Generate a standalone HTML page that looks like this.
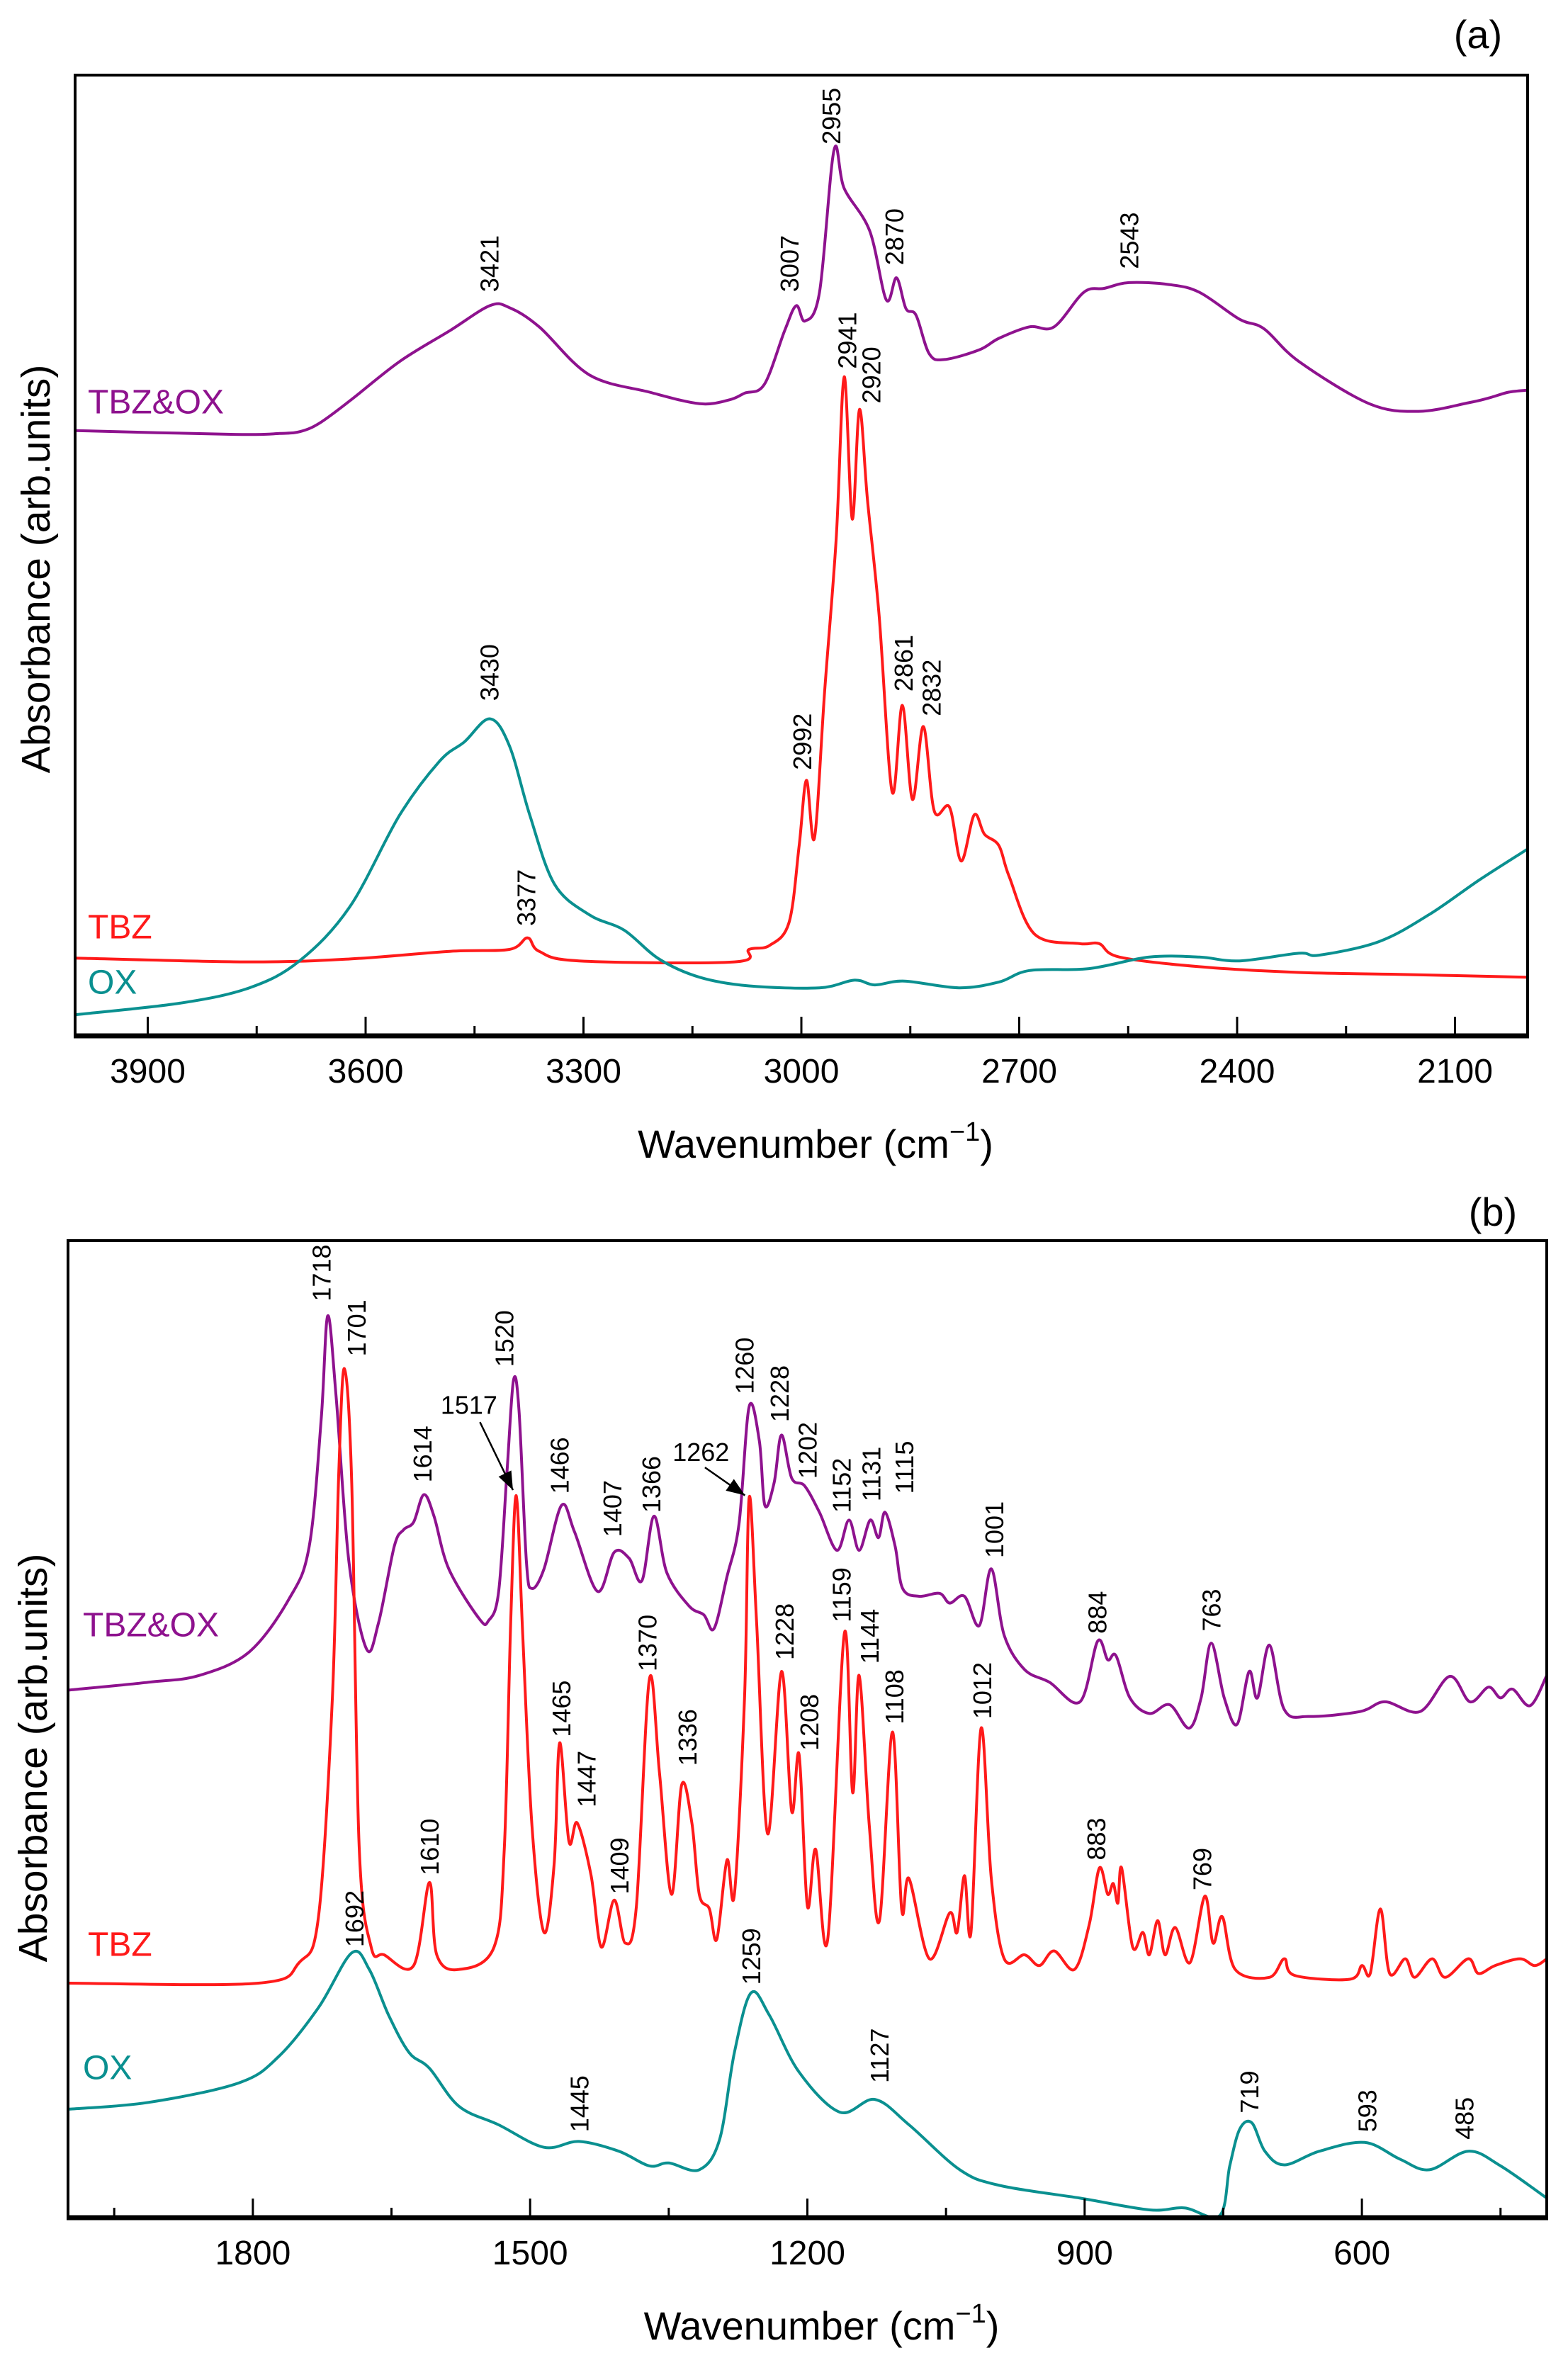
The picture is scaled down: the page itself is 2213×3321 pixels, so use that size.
<!DOCTYPE html>
<html><head><meta charset="utf-8">
<style>
html,body{margin:0;padding:0;background:#fff;}
svg{display:block;font-family:"Liberation Sans",Arial,sans-serif;}
</style></head>
<body>
<svg id="fig" width="2213" height="3321" viewBox="0 0 2213 3321" xmlns="http://www.w3.org/2000/svg">
<rect width="2213" height="3321" fill="#fff"/>
</svg>
<script>
// ---------- Panel (a) data ----------
const aMixWn  = [4000,3780,3718,3690,3663,3620,3553,3484,3429,3402,3361,3292,3209,3140,3099,3078,3051,3023,3007,2995,2975,2955,2941,2906,2883,2869,2856,2842,2824,2803,2755,2728,2686,2652,2611,2583,2549,2494,2452,2397,2363,2315,2218,2150,2081,2053,2026,2001];
const aMixVal = [63.0,62.6,62.7,62.9,63.8,66.2,70.2,73.4,76,75.8,73.8,68.8,67,65.8,66.2,66.9,67.8,73.4,76,74.4,77.4,92.2,88.2,83.8,76.6,78.9,75.7,75,71,70.4,71.4,72.6,73.8,73.8,77.4,77.8,78.4,78.2,77.4,74.6,73.6,70.2,65.8,65,65.9,66.4,67,67.2];
const aTbzWn  = [4000,3760,3622,3484,3402,3377,3361,3306,3092,3072,3044,3017,3003,2993,2982,2968,2952,2941,2930,2920,2909,2893,2875,2861,2847,2832,2817,2796,2780,2762,2748,2728,2714,2679,2617,2590,2562,2452,2315,2177,2001];
const aTbzVal = [8.1,7.7,8.0,8.8,9,10.2,8.8,7.8,7.7,9,9.4,11.8,19.8,26.6,20.6,35.8,51.8,68.6,53.8,65.2,55.8,43.8,25.4,34.4,24.6,32.2,23.4,23.8,18.2,23,21,19.8,16.6,10.6,9.6,9.6,8.2,7.2,6.6,6.4,6.1];
const aOxWn   = [4000,3856,3760,3691,3622,3553,3498,3464,3429,3402,3374,3340,3292,3244,3196,3140,3072,2975,2927,2899,2858,2783,2728,2686,2604,2521,2452,2397,2315,2287,2205,2136,2067,2001];
const aOxVal  = [2.2,3.4,5,7.8,13.4,23,28.6,30.6,33,30.2,23,15.8,12.6,11,8,6.1,5.2,5,5.8,5.3,5.7,5,5.6,6.8,7,8.2,8.2,7.8,8.6,8.4,9.8,12.6,16.2,19.4];
const aTicks = [3900,3600,3300,3000,2700,2400,2100];
// ---------- Panel (b) data ----------
const bMixWn  = [1999,1913,1858,1804,1761,1739,1726,1719,1710,1696,1677,1664,1647,1637,1626,1615,1604,1588,1555,1545,1534,1525,1518,1512,1504,1498,1485,1466,1452,1427,1409,1393,1379,1366,1352,1328,1312,1301,1287,1274,1263,1252,1246,1236,1228,1217,1203,1187,1168,1155,1144,1132,1123,1116,1105,1097,1079,1057,1046,1030,1014,1001,987,965,938,905,886,875,866,851,830,808,787,774,763,749,735,722,713,700,684,657,602,575,537,505,483,463,450,437,418,400];
const bMixVal = [54,54.8,55.5,57.9,63.3,68.7,81.8,92.3,84.1,67.1,58.2,60.9,68.7,70.4,71.2,74,71.8,66.4,61.3,61.1,64.1,76.4,85.7,82.6,67.1,64.4,66.4,72.9,70.2,64.1,68.1,67.5,65.2,71.8,66,62.6,61.7,60.3,65.6,71,83,79.5,72.9,75.2,80.1,75.7,74.9,72.2,68.3,71.4,68.3,71.4,69.6,72.2,68.7,64.4,63.6,63.9,62.9,63.6,60.6,66.4,59.6,56.1,54.8,52.8,59,57.1,57.5,53.2,51.6,52.5,50.1,53.2,58.8,53.2,50.5,55.9,53.2,58.6,52,51.3,51.8,52.8,51.8,55.4,52.8,54.3,53.2,54.1,52.4,55.5];
const bTbzWn  = [1999,1794,1750,1729,1714,1707,1701,1693,1685,1672,1658,1626,1609,1601,1577,1539,1528,1521,1515,1508,1498,1485,1474,1468,1458,1449,1434,1423,1409,1397,1385,1371,1360,1347,1336,1325,1317,1306,1298,1287,1279,1268,1263,1255,1243,1228,1217,1209,1200,1191,1178,1160,1151,1144,1133,1122,1108,1098,1090,1068,1046,1038,1030,1023,1012,1001,987,965,949,933,911,895,884,875,869,864,860,848,837,830,821,813,802,786,770,761,751,737,700,684,673,613,600,591,580,570,553,543,524,510,485,474,456,429,413,400];
const bTbzVal = [24,24,26.1,30.8,53.2,76.4,86.9,75.2,38,27.7,26.9,25.8,34.3,26.9,25.4,27.7,37.7,61,73.9,59.6,40.1,29.2,36.2,48.6,38.5,40.4,35,27.7,32.5,28.1,31.9,55.1,45.5,33.1,44.3,40.4,33.1,31.6,28.5,36.6,33.1,53.2,73.7,61,39.3,55.9,41.6,47.4,31.9,37.7,28.5,59.8,43.5,55.5,40.1,30.4,49.7,31.6,34.7,26.5,31.2,29.2,35,29.2,50.1,34.7,26.5,26.9,25.8,27.3,25.4,30,35.8,33.1,34.2,32.2,35.8,27.7,29.2,26.9,30.4,26.9,29.7,26.1,32.9,28.1,30.8,25.4,24.6,26.5,24.8,24.4,25.8,25,31.6,25,26.5,24.6,26.5,24.6,26.5,25,25.8,26.5,25.8,26.5];
const bOxWn   = [1999,1913,1815,1772,1729,1693,1674,1653,1631,1609,1577,1534,1485,1447,1404,1371,1350,1317,1295,1279,1261,1241,1209,1165,1127,1090,1035,992,905,830,792,754,743,732,719,705,684,646,597,559,527,485,450,400];
const bOxVal  = [11.1,11.8,13.8,16.5,21.5,27.1,25.4,20.7,16.9,15.3,11.4,9.5,7.2,7.8,6.8,5.3,5.6,4.9,8,16.9,23,20.7,14.9,10.8,12.1,9.5,4.9,3.3,2,0.8,1,0.2,5.3,9.1,9.7,6.8,5.4,6.8,7.7,6,4.9,6.8,5.3,2];
const bTicks = [1800,1500,1200,900,600];

const NS="http://www.w3.org/2000/svg";
const svg=document.getElementById('fig');
function el(tag,attrs,parent){const e=document.createElementNS(NS,tag);for(const k in attrs)e.setAttribute(k,attrs[k]);(parent||svg).appendChild(e);return e;}

function makePanel(p){
  const g=el('g',{});
  
  
  const xs=w=>p.x0+(p.wmax-w)/(p.wmax-p.wmin)*(p.x1-p.x0);
  const ys=v=>p.y1-v/100*(p.y1-p.y0);
  p.series.forEach(s=>{
    const pts=s.wn.map((w,i)=>[xs(w),ys(s.val[i])]);
    let d='M'+pts[0][0].toFixed(1)+','+pts[0][1].toFixed(1);
    for(let i=0;i<pts.length-1;i++){
      const p0=pts[Math.max(0,i-1)],p1=pts[i],p2=pts[i+1],p3=pts[Math.min(pts.length-1,i+2)];
      const c1=[p1[0]+(p2[0]-p0[0])/6,p1[1]+(p2[1]-p0[1])/6];
      const c2=[p2[0]-(p3[0]-p1[0])/6,p2[1]-(p3[1]-p1[1])/6];
      d+='C'+c1[0].toFixed(1)+','+c1[1].toFixed(1)+' '+c2[0].toFixed(1)+','+c2[1].toFixed(1)+' '+p2[0].toFixed(1)+','+p2[1].toFixed(1);
    }
    const path=el('path',{d:d,fill:'none',stroke:s.color,'stroke-width':4,'stroke-linejoin':'round'},g);
    
    
    const lab=el('text',{x:s.lx,y:s.ly,fill:s.color,'font-size':48,'dominant-baseline':'middle'},g);
    
    
    lab.textContent=s.label;
  });
  const fr=el('rect',{x:p.x0,y:p.y0,width:p.x1-p.x0,height:p.y1-p.y0,fill:'none',stroke:'#000','stroke-width':4},g);
  
  
  el('line',{x1:p.x0-2,x2:p.x1+2,y1:p.y1,y2:p.y1,stroke:'#000','stroke-width':7},g);
  for(let w=p.minorStart;w>p.wmin;w-=150){
    const major=p.ticks.indexOf(w)>=0;
    const t=el('line',{x1:xs(w),x2:xs(w),y1:p.y1,y2:p.y1-(major?27:14),stroke:'#000','stroke-width':3},g);
    
    
  }
  p.ticks.forEach(w=>{
    const t=el('text',{x:xs(w),y:p.y1+66,'text-anchor':'middle','font-size':48,fill:'#000'},g);
    
    
    t.textContent=w;
  });
  const xt=el('text',{x:(p.x0+p.x1)/2+20,y:p.y1+172,'text-anchor':'middle','font-size':56,fill:'#000'},g);
  
  
  xt.innerHTML='Wavenumber (cm<tspan dy="-24" font-size="38">\u22121</tspan><tspan dy="24">)</tspan>';
  const yt=el('text',{x:0,y:0,'text-anchor':'middle','font-size':57,fill:'#000',transform:'translate('+(p.ytx)+','+(p.yty)+') rotate(-90)'},g);
  
  
  yt.textContent='Absorbance (arb.units)';
  const pl=el('text',{x:p.plx,y:p.ply,'text-anchor':'middle','font-size':56,fill:'#000'},g);
  
  
  pl.textContent=p.letter;
  p.peaks.forEach(k=>{
    const x=k[1]/0.7086, y=p.pyOff+k[2]/p.pyScale;
    const t=el('text',{x:0,y:0,'font-size':36,fill:'#000',transform:'translate('+(x+12).toFixed(1)+','+y.toFixed(1)+') rotate(-90)'},g);
    
    
    t.textContent=k[0];
  });
  return {xs,ys,g};
}

const A=makePanel({name:'panel-a',letter:'(a)',x0:106,x1:2156,y0:106,y1:1462,wmax:4000,wmin:2000,ticks:aTicks,minorStart:3900,
  ytx:70,yty:803,plx:2086,ply:68,pyOff:0,pyScale:0.922,
  series:[
    {id:'tbz-ox',label:'TBZ&OX',color:'#8E128E',wn:aMixWn,val:aMixVal,lx:124,ly:571},
    {id:'tbz',label:'TBZ',color:'#FF1A1A',wn:aTbzWn,val:aTbzVal,lx:124,ly:1312},
    {id:'ox',label:'OX',color:'#0A9090',wn:aOxWn,val:aOxVal,lx:124,ly:1390}],
  peaks:[['3421',490,380],['3007',790,380],['2955',832,188],['2870',895,345],['2543',1130,350],['2941',848,480],['2920',872,525],['2861',904,900],['2832',932,932],['2992',803,1002],['3430',490,912],['3377',527,1205]]
});
const B=makePanel({name:'panel-b',letter:'(b)',x0:96,x1:2183,y0:1751,y1:3130,wmax:2000,wmin:400,ticks:bTicks,minorStart:1950,
  ytx:66,yty:2481,plx:2107,ply:1730,pyOff:1650,pyScale:0.938,
  series:[
    {id:'tbz-ox',label:'TBZ&OX',color:'#8E128E',wn:bMixWn,val:bMixVal,lx:117,ly:2297},
    {id:'tbz',label:'TBZ',color:'#FF1A1A',wn:bTbzWn,val:bTbzVal,lx:124,ly:2748},
    {id:'ox',label:'OX',color:'#0A9090',wn:bOxWn,val:bOxVal,lx:117,ly:2922}],
  peaks:[['1718',322,175],['1701',357,248],['1614',423,415],['1520',505,262],['1466',560,430],['1407',613,487],['1366',652,455],['1260',745,298],['1228',780,335],['1202',808,410],['1152',842,455],['1131',872,440],['1115',905,430],['1001',995,515],['884',1098,615],['763',1212,612],
    ['1465',562,752],['1447',587,845],['1409',620,960],['1370',648,665],['1336',688,790],['1228',785,650],['1208',810,770],['1159',842,600],['1144',870,655],['1108',895,735],['1012',983,728],['883',1097,915],['769',1203,955],['1610',430,935],
    ['1692',355,1030],['1259',752,1080],['1127',880,1210],['1445',580,1275],['719',1250,1250],['593',1368,1275],['485',1465,1285]]
});
[['1517',469,313,480,335,513,425],['1262',701,375,705,395,745,432]].forEach(a=>{
  const cx=a[1]/0.7086, cy=1650+a[2]/0.938;
  const t=el('text',{x:cx,y:cy+12,'text-anchor':'middle','font-size':36,fill:'#000'},B.g);
  
  
  t.textContent=a[0];
  const x1=a[3]/0.7086,y1=1650+a[4]/0.938,x2=a[5]/0.7086,y2=1650+a[6]/0.938;
  const ln=el('line',{x1:x1,y1:y1,x2:x2,y2:y2,stroke:'#000','stroke-width':2.5},B.g);
  
  
  const ang=Math.atan2(y2-y1,x2-x1),L=26,W=10;
  const bx=x2-L*Math.cos(ang),by=y2-L*Math.sin(ang);
  const hd=el('polygon',{points:x2+','+y2+' '+(bx-W*Math.sin(ang))+','+(by+W*Math.cos(ang))+' '+(bx+W*Math.sin(ang))+','+(by-W*Math.cos(ang)),fill:'#000'},B.g);
  
  
});
</script>
</body></html>
